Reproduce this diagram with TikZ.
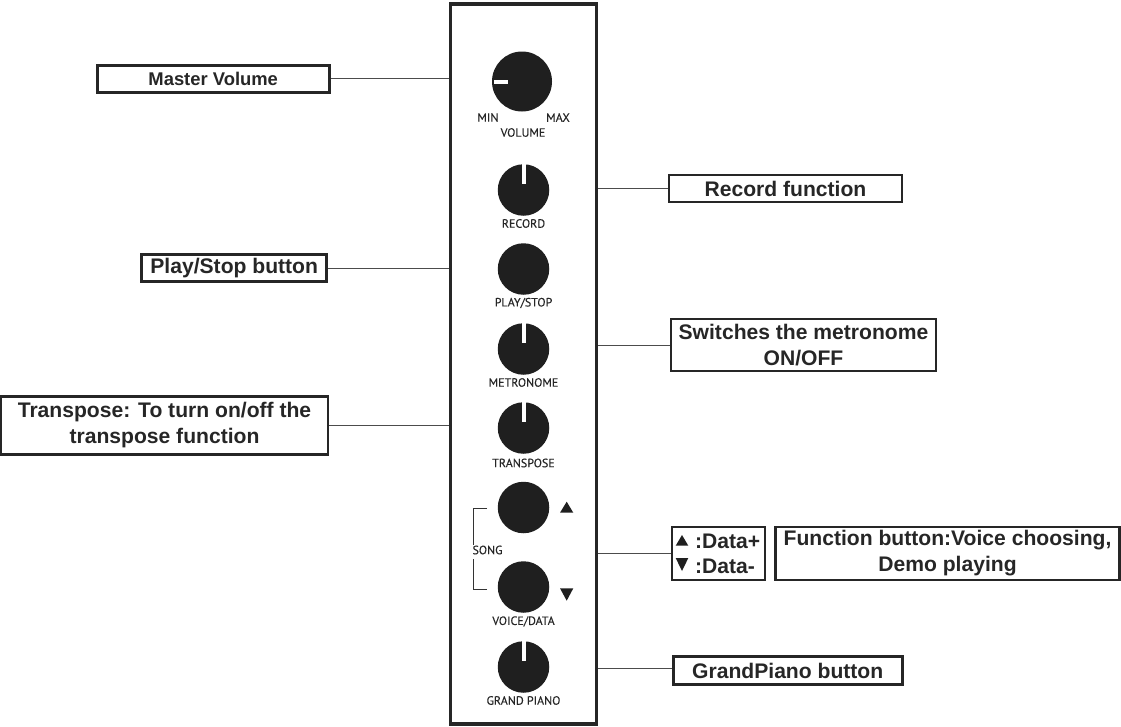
\documentclass[tikz,border=0pt]{standalone}
\usepackage{fontspec}
\setmainfont{Liberation Sans}
\newfontfamily\panelfont[FakeBold=0.25]{PT Sans}
\tikzset{
  callout/.style={draw=black!85,line width=2.6pt,inner sep=0pt,align=center,font=\fontsize{21.1}{26}\selectfont\bfseries,text=black!85,minimum width=#1},
  boxh/.style={minimum height=#1},
  lead/.style={draw=black!70,line width=0.9pt},
  knob/.style={circle,fill=black!88,draw=none,inner sep=0pt,minimum size=#1},
  ticka/.style={draw=white,line width=4pt},
  small/.style={font=\panelfont\fontsize{12}{14}\selectfont,text=black!85,inner sep=0pt},
  frame/.style={draw=black!85,line width=3.8pt,inner sep=0pt,minimum width=146pt,minimum height=719.5pt},
  bracket/.style={draw=black!80,line width=0.8pt},
  tri/.style={fill=black!88,draw=none},
  datatxt/.style={anchor=west,inner sep=0pt,font=\fontsize{21.1}{26}\selectfont\bfseries,text=black!85},
}
\begin{document}
\begin{tikzpicture}[x=1pt,y=-1pt]
\useasboundingbox (0,0) rectangle (1121,726);
% panel
\node[frame] (panel) at (523.5,364) {};
% knobs
\node[knob=60pt] (kvol) at (522,81.5) {};
\node[knob=51.5pt] (krec) at (523.5,190) {};
\node[knob=51.5pt] (kplay) at (523.5,269) {};
\node[knob=51.5pt] (kmet) at (523.5,349) {};
\node[knob=51.5pt] (ktra) at (523.5,428) {};
\node[knob=51.5pt] (ksong) at (523.5,507.5) {};
\node[knob=51.5pt] (kvoice) at (523.5,587) {};
\node[knob=51.5pt] (kgrand) at (523.5,667) {};
% indicators
\draw[ticka] (494,81.7) -- (508,81.7);
\foreach \k in {krec,kmet,ktra,kgrand}{
  \draw[ticka] ([yshift=1.5pt]\k.north) -- ([yshift=-20pt]\k.north);
}
% panel labels
\node[small] (lmin) at (488,117.5) {MIN};
\node[small] (lmax) at (558,117.5) {MAX};
\node[small] (lvol) at (523,132.5) {VOLUME};
\node[small] (lrec) at (523.5,223.5) {RECORD};
\node[small] (lplay) at (523.5,303) {PLAY/STOP};
\node[small] (lmet) at (523.5,382.5) {METRONOME};
\node[small] (ltra) at (523.5,463) {TRANSPOSE};
\node[small] (lsong) at (487.5,550) {SONG};
\node[small] (lvoice) at (523.5,621.5) {VOICE/DATA};
\node[small] (lgrand) at (523.5,700.5) {GRAND PIANO};
% song bracket
\coordinate (bt) at (487,508.7);
\coordinate (bb) at (487,589);
\draw[bracket] (bt) -| (lsong.north -| 473.8,538);
\draw[bracket] (bb) -| (473.8,559.3);
% triangles
\fill[tri] (566.7,501.7) -- (560,512.7) -- (573.3,512.7) -- cycle;
\fill[tri] (566.7,600.7) -- (560,588.3) -- (573.3,588.3) -- cycle;
% callouts
\node[callout=232pt,boxh=27pt,font=\fontsize{18.4}{24}\selectfont\bfseries] (mv) at (213.2,78.7) {Master Volume};
\node[callout=233pt,boxh=27pt] (rec) at (785.5,188.5) {Record function};
\node[callout=185pt,boxh=27pt] (play) at (234.2,268) {Play/Stop button};
\node[callout=265pt,boxh=52pt] (met) at (803.5,345) {Switches the metronome\\ON/OFF};
\node[callout=327pt,boxh=58pt] (tra) at (164.5,425.5) {Transpose: To turn on/off the\\transpose function};
\node[callout=93pt,boxh=53pt] (dat) at (718.5,553.5) {};
\node[callout=344pt,boxh=53pt] (fun) at (947.5,553.5) {Function button:Voice choosing,\\Demo playing};
\node[callout=229pt,boxh=28pt] (gp) at (787.7,670.7) {GrandPiano button};
\node[datatxt] (dp) at (695,541.5) {:Data+};
\node[datatxt] (dm) at (695,566.5) {:Data-};
\fill[tri] (682,535) -- (675.7,545.7) -- (688.3,545.7) -- cycle;
\fill[tri] (682,571) -- (675.7,558) -- (688.3,558) -- cycle;
% leaders
\draw[lead] (mv.east) -- (mv.east -| panel.west);
\draw[lead] (play.east) -- (play.east -| panel.west);
\draw[lead] (tra.east) -- (tra.east -| panel.west);
\draw[lead] (rec.west) -- (rec.west -| panel.east);
\draw[lead] (met.west) -- (met.west -| panel.east);
\draw[lead] (dat.west) -- (dat.west -| panel.east);
\draw[lead] ([yshift=2pt]gp.west) -- ([yshift=2pt]gp.west -| panel.east);
\end{tikzpicture}
\end{document}
